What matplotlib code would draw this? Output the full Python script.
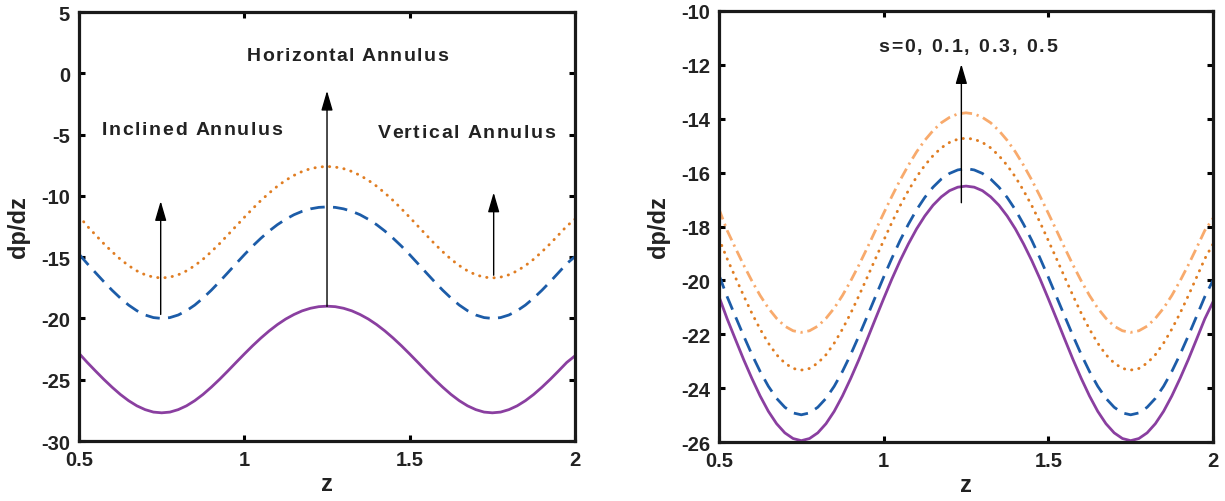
import numpy as np
import matplotlib
matplotlib.use("Agg")
import matplotlib.pyplot as plt

# valores (z de 0.5 a 2.0, passo 0.025)
z = np.linspace(0.5, 2.0, 61)

# painel esquerdo
esq_roxo = [-22.85, -23.59, -24.29, -24.97, -25.61, -26.20, -26.71, -27.13, -27.44, -27.64, -27.70,
            -27.64, -27.44, -27.13, -26.71, -26.20, -25.61, -24.97, -24.29, -23.59, -22.90,
            -22.23, -21.60, -21.02, -20.50, -20.05, -19.68, -19.38, -19.17, -19.04, -19.00,
            -19.04, -19.17, -19.38, -19.68, -20.05, -20.50, -21.02, -21.60, -22.23, -22.90,
            -23.59, -24.29, -24.97, -25.61, -26.20, -26.71, -27.13, -27.44, -27.64, -27.70,
            -27.64, -27.44, -27.13, -26.71, -26.20, -25.61, -24.97, -24.29, -23.59, -23.05]
esq_azul = [-14.75, -15.53, -16.27, -17.00, -17.70, -18.34, -18.91, -19.37, -19.72, -19.93, -20.00,
            -19.93, -19.72, -19.37, -18.91, -18.34, -17.70, -17.00, -16.27, -15.53, -14.80,
            -14.10, -13.46, -12.87, -12.35, -11.91, -11.54, -11.26, -11.06, -10.94, -10.90,
            -10.94, -11.06, -11.26, -11.54, -11.91, -12.35, -12.87, -13.46, -14.10, -14.80,
            -15.53, -16.27, -17.00, -17.70, -18.34, -18.91, -19.37, -19.72, -19.93, -20.00,
            -19.93, -19.72, -19.37, -18.91, -18.34, -17.70, -17.00, -16.27, -15.53, -14.95]
esq_laranja = [-11.65, -12.47, -13.19, -13.90, -14.56, -15.17, -15.69, -16.12, -16.44, -16.63, -16.70,
               -16.63, -16.44, -16.12, -15.69, -15.17, -14.56, -13.90, -13.19, -12.47, -11.75,
               -11.05, -10.38, -9.77, -9.21, -8.73, -8.33, -8.01, -7.78, -7.65, -7.60,
               -7.65, -7.78, -8.01, -8.33, -8.73, -9.21, -9.77, -10.38, -11.05, -11.75,
               -12.47, -13.19, -13.90, -14.56, -15.17, -15.69, -16.12, -16.44, -16.63, -16.70,
               -16.63, -16.44, -16.12, -15.69, -15.17, -14.56, -13.90, -13.19, -12.47, -11.90]

# painel direito (s = 0, 0.1, 0.3, 0.5)
dir_s0 = [-20.60, -21.43, -22.19, -22.94, -23.64, -24.29, -24.86, -25.32, -25.66, -25.87, -25.95,
          -25.87, -25.66, -25.32, -24.86, -24.29, -23.64, -22.94, -22.19, -21.43, -20.68,
          -19.95, -19.27, -18.65, -18.09, -17.61, -17.21, -16.90, -16.67, -16.54, -16.50,
          -16.54, -16.67, -16.90, -17.21, -17.61, -18.09, -18.65, -19.27, -19.95, -20.68,
          -21.43, -22.19, -22.94, -23.64, -24.29, -24.86, -25.32, -25.66, -25.87, -25.95,
          -25.87, -25.66, -25.32, -24.86, -24.29, -23.64, -22.94, -22.19, -21.43, -20.80]
dir_s1 = [-19.80, -20.61, -21.34, -22.06, -22.75, -23.38, -23.93, -24.38, -24.71, -24.92, -24.99,
          -24.92, -24.71, -24.38, -23.93, -23.38, -22.75, -22.06, -21.34, -20.61, -19.88,
          -19.18, -18.52, -17.92, -17.38, -16.92, -16.54, -16.24, -16.03, -15.90, -15.85,
          -15.90, -16.03, -16.24, -16.54, -16.92, -17.38, -17.92, -18.52, -19.18, -19.88,
          -20.61, -21.34, -22.06, -22.75, -23.38, -23.93, -24.38, -24.71, -24.92, -24.99,
          -24.92, -24.71, -24.38, -23.93, -23.38, -22.75, -22.06, -21.34, -20.61, -20.00]
dir_s3 = [-18.45, -19.20, -19.89, -20.57, -21.22, -21.81, -22.33, -22.76, -23.07, -23.27, -23.33,
          -23.27, -23.07, -22.76, -22.33, -21.81, -21.22, -20.57, -19.89, -19.20, -18.52,
          -17.85, -17.23, -16.67, -16.16, -15.73, -15.37, -15.08, -14.88, -14.76, -14.72,
          -14.76, -14.88, -15.08, -15.37, -15.73, -16.16, -16.67, -17.23, -17.85, -18.52,
          -19.20, -19.89, -20.57, -21.22, -21.81, -22.33, -22.76, -23.07, -23.27, -23.33,
          -23.27, -23.07, -22.76, -22.33, -21.81, -21.22, -20.57, -19.89, -19.20, -18.65]
dir_s5 = [-17.35, -18.15, -18.80, -19.43, -20.02, -20.56, -21.03, -21.41, -21.70, -21.87, -21.93,
          -21.87, -21.70, -21.41, -21.03, -20.56, -20.02, -19.43, -18.80, -18.15, -17.51,
          -16.88, -16.28, -15.73, -15.23, -14.80, -14.44, -14.15, -13.95, -13.82, -13.78,
          -13.82, -13.95, -14.15, -14.44, -14.80, -15.23, -15.73, -16.28, -16.88, -17.51,
          -18.15, -18.80, -19.43, -20.02, -20.56, -21.03, -21.41, -21.70, -21.87, -21.93,
          -21.87, -21.70, -21.41, -21.03, -20.56, -20.02, -19.43, -18.80, -18.15, -17.70]

roxo = "#8a3fa0"
azul = "#1c5ca8"
laranja = "#e07d22"
laranja_claro = "#f8aa6c"
texto_cor = "#222222"

plt.rcParams["font.family"] = "Liberation Sans"
plt.rcParams["font.weight"] = "bold"
plt.rcParams["axes.unicode_minus"] = False

fig = plt.figure(figsize=(12.25, 5.02), dpi=100)
ax1 = fig.add_axes([0.0645, 0.1195, 0.4049, 0.8546])
ax2 = fig.add_axes([0.5869, 0.1175, 0.4033, 0.8586])

pontilhado = (0, (0.1, 2.4))
tracejado = (0, (5.2, 3.0))
traco_ponto = (0, (4.0, 1.7, 0.8, 1.7))

ax1.plot(z, esq_roxo, color=roxo, lw=2.0)
ax1.plot(z, esq_azul, color=azul, lw=2.0, linestyle=tracejado)
ax1.plot(z, esq_laranja, color=laranja, lw=2.1, linestyle=pontilhado, dash_capstyle="round")

ax2.plot(z, dir_s0, color=roxo, lw=2.0)
ax2.plot(z, dir_s1, color=azul, lw=2.0, linestyle=tracejado)
ax2.plot(z, dir_s3, color=laranja, lw=2.1, linestyle=pontilhado, dash_capstyle="round")
ax2.plot(z, dir_s5, color=laranja_claro, lw=2.0, linestyle=traco_ponto)

seta = dict(arrowstyle="-|>,head_length=1.2,head_width=0.35", color="black", lw=1.0)
ax1.annotate("", xy=(0.747, -10.2), xytext=(0.747, -19.9), arrowprops=seta)
ax1.annotate("", xy=(1.25, -1.2), xytext=(1.25, -19.25), arrowprops=seta)
ax1.annotate("", xy=(1.754, -9.5), xytext=(1.754, -16.7), arrowprops=seta)
ax2.annotate("", xy=(1.236, -11.87), xytext=(1.236, -17.22), arrowprops=seta)


def texto_espacado(ax, x, y, s, tamanho, largura_alvo):
    # texto com espacamento entre letras (como no original)
    r = fig.canvas.get_renderer()

    def largura(t):
        tt = ax.text(0, 0, t, fontsize=tamanho, fontweight="bold")
        w = tt.get_window_extent(r).width
        tt.remove()
        return w

    ref = largura("H")
    inicio = [0.0] + [largura(s[:i] + "H") - ref for i in range(1, len(s))]
    extra = (largura_alvo - largura(s)) / (len(s) - 1)
    for i, c in enumerate(s):
        if c == " ":
            continue
        ax.annotate(c, xy=(x, y), xytext=(inicio[i] + i * extra, 0), textcoords="offset pixels",
                    fontsize=tamanho, fontweight="bold", ha="left", va="baseline", color=texto_cor)


texto_espacado(ax1, 1.007, 1.08, "Horizontal Annulus", 14, 201)
texto_espacado(ax1, 0.570, -4.97, "Inclined Annulus", 14, 180)
texto_espacado(ax1, 1.403, -5.17, "Vertical Annulus", 14, 178)
texto_espacado(ax2, 0.983, -11.47, "s=0, 0.1, 0.3, 0.5", 14, 179)

for ax in (ax1, ax2):
    ax.set_xlim(0.5, 2)
    ax.set_xticks([0.5, 1, 1.5, 2])
    ax.set_xticklabels(["0.5", "1", "1.5", "2"])
    ax.tick_params(direction="in", length=4.5, width=2.2, top=True, right=True,
                   labelsize=14.5, pad=6.5, labelcolor=texto_cor)
    for lab in ax.get_xticklabels() + ax.get_yticklabels():
        lab.set_fontweight("bold")
    for s in ax.spines.values():
        s.set_linewidth(2.3)
        s.set_color("#1a1a1a")
    ax.set_xlabel("z", fontsize=17, fontweight="bold", labelpad=2, color=texto_cor)
    ax.set_ylabel("dp/dz", fontsize=17, fontweight="bold", labelpad=8, color=texto_cor)

ax1.set_ylim(-30, 5)
ax1.set_yticks(np.arange(-30, 6, 5))
ax2.set_ylim(-26, -10)
ax2.set_yticks(np.arange(-26, -9, 2))

fig.savefig("out.png", dpi=100)
